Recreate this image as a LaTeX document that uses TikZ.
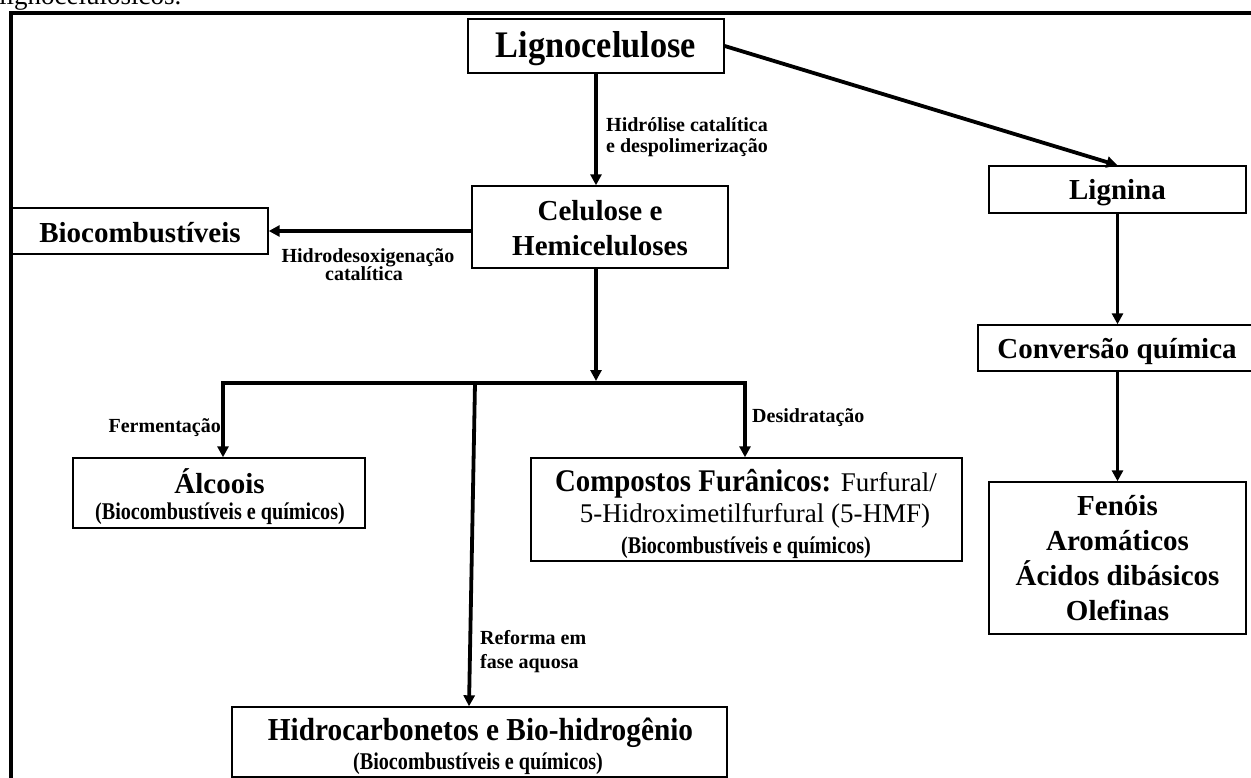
\documentclass[tikz,border=0pt]{standalone}
\usepackage{fontspec}
\setmainfont{Liberation Serif}
\newfontfamily\condfont[FakeStretch=0.915]{Liberation Serif}
\newfontfamily\subfont[FakeStretch=0.84]{Liberation Serif}
\usetikzlibrary{arrows.meta,calc}
\tikzset{
  box/.style={draw=black, line width=1.4pt, inner sep=0pt},
  arr/.style={line width=3.8pt, -{Triangle[length=11pt,width=11pt]}},
  tb/.style={inner sep=0pt, anchor=base, font=\fontsize{29}{35}\selectfont\bfseries},
  tcond/.style={inner sep=0pt, anchor=base, font=\condfont\fontsize{32}{38}\selectfont\bfseries},
  tsub/.style={inner sep=0pt, anchor=base, font=\subfont\fontsize{24}{28}\selectfont\bfseries},
  treg/.style={inner sep=0pt, anchor=base, font=\fontsize{27}{30}\selectfont},
  lbl/.style={inner sep=0pt, anchor=base west, font=\fontsize{20}{22}\selectfont\bfseries},
}
\begin{document}
\begin{tikzpicture}[x=1pt,y=-1pt]
\useasboundingbox (0,0) rectangle (1251,778);
\clip (0,0) rectangle (1251,778);
% caption fragment and frame
\node[treg, anchor=base west] (topT) at (-1,4.5) {lignocelulósicos.};
\coordinate (frBL) at (11.2,800);
\coordinate (frTL) at (11.2,12.8);
\coordinate (frTR) at (1300,12.8);
\draw[line width=4.3pt] (frBL) -- (frTL) -- (frTR);
% boxes
\node[box, fill=white, minimum width=256pt, minimum height=54pt] (ligno) at (596,46) {};
\node[box, minimum width=256pt, minimum height=82pt] (celu) at (600,227) {};
\node[box, fill=white, minimum width=256pt, minimum height=46pt] (bio) at (140,231) {};
\node[box, minimum width=257pt, minimum height=47pt] (lignina) at (1117.5,189.5) {};
\node[box, minimum width=278pt, minimum height=46pt] (conv) at (1117,348) {};
\node[box, minimum width=257pt, minimum height=152pt] (fenois) at (1117.5,558) {};
\node[box, minimum width=292pt, minimum height=70pt] (alc) at (219,493) {};
\node[box, minimum width=431pt, minimum height=103pt] (comp) at (746.5,509.5) {};
\node[box, minimum width=495pt, minimum height=70pt] (hidro) at (479.5,742) {};
% box texts
\node[tcond, font=\condfont\fontsize{37.5}{44}\selectfont\bfseries] (lignoT) at (596,58) {Lignocelulose};
\node[tb] (celuT1) at (600,221) {Celulose e};
\node[tb] (celuT2) at (600,256) {Hemiceluloses};
\node[tb] (bioT) at (140,243) {Biocombustíveis};
\node[tb] (ligninaT) at (1117.5,200) {Lignina};
\node[tb] (convT) at (1117,358) {Conversão química};
\node[tb] (fenT1) at (1117.5,515) {Fenóis};
\node[tb] (fenT2) at (1117.5,550) {Aromáticos};
\node[tb] (fenT3) at (1117.5,585) {Ácidos dibásicos};
\node[tb] (fenT4) at (1117.5,620) {Olefinas};
\node[tb] (alcT1) at (219.5,493) {Álcoois};
\node[tsub] (alcT2) at (220,519) {(Biocombustíveis e químicos)};
\node[tcond, font=\condfont\fontsize{31.5}{36}\selectfont\bfseries] (compT1) at (746,491) {Compostos Furânicos: {\rmfamily\mdseries\fontsize{27}{30}\selectfont Furfural/}};
\node[treg] (compT2) at (755,522) {5-Hidroximetilfurfural (5-HMF)};
\node[tsub] (compT3) at (746,553) {(Biocombustíveis e químicos)};
\node[tcond] (hidroT1) at (480.5,740) {Hidrocarbonetos e Bio-hidrogênio};
\node[tsub] (hidroT2) at (478,769) {(Biocombustíveis e químicos)};
% connector labels
\node[lbl] (lHid1) at (606,132) {Hidrólise catalítica};
\node[lbl] (lHid2) at (606,153) {e despolimerização};
\node[lbl, anchor=base] (lHdo1) at (368,263) {Hidrodesoxigenação};
\node[lbl, anchor=base] (lHdo2) at (364,281) {catalítica};
\node[lbl, anchor=base east] (lFer) at (221,432) {Fermentação};
\node[lbl] (lDes) at (752,422) {Desidratação};
\node[lbl] (lRef1) at (480,644) {Reforma em};
\node[lbl] (lRef2) at (480,668) {fase aquosa};
% connectors
\coordinate (barL) at (223,383);
\coordinate (barR) at (745,383);
\coordinate (barM) at (475,383);
\coordinate (barC) at (596,381);
\draw[arr] (ligno.south) -- (ligno.south |- celu.north);
\draw[arr] (ligno.east) -- (lignina.north);
\draw[arr] (celu.west |- bio.east) -- (bio.east);
\draw[arr] (lignina.south) -- (lignina.south |- conv.north);
\draw[arr] (conv.south -| lignina.south) -- (lignina.south |- fenois.north);
\draw[arr] (ligno.south |- celu.south) -- (barC);
\draw[line width=3.8pt, line join=miter, {Triangle[length=11pt,width=11pt]}-{Triangle[length=11pt,width=11pt]}]
  (barL |- alc.north) -- (barL) -- (barR) -- (barR |- comp.north);
\draw[arr] (barM) -- ([xshift=-10.5pt]hidro.north);
\end{tikzpicture}
\end{document}
